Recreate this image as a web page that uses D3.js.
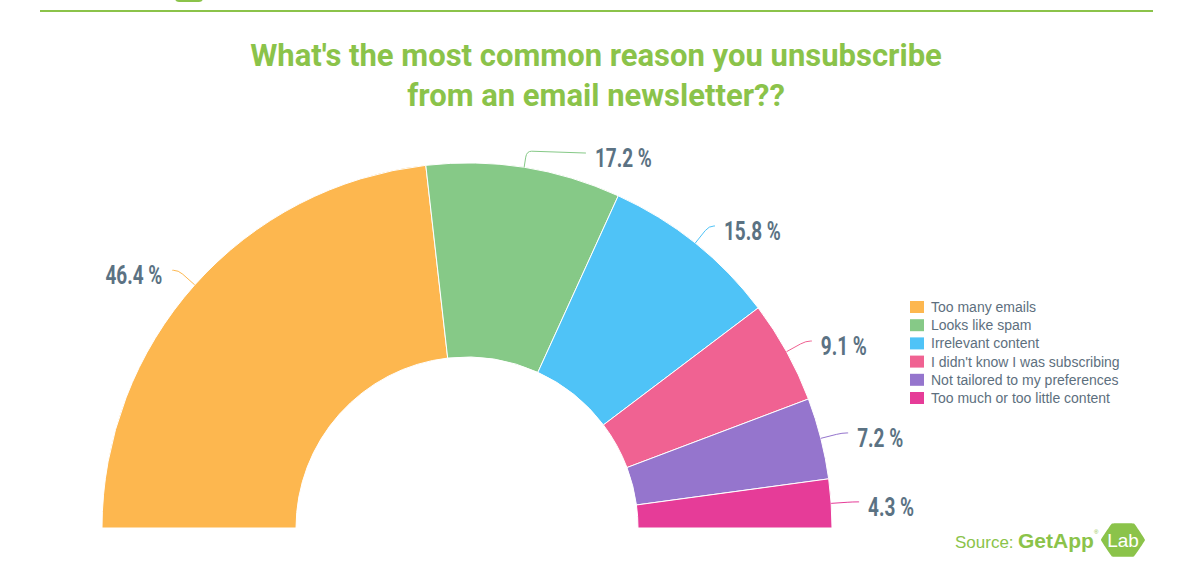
<!DOCTYPE html>
<html>
<head>
<meta charset="utf-8">
<script src="https://cdn.jsdelivr.net/npm/d3@7"></script>
<style>
  html, body { margin: 0; padding: 0; background: #ffffff; }
  svg { display: block; }
</style>
</head>
<body>
<svg id="chart" width="1186" height="576"></svg>
<script>
// ---- data ----
const categories = [
  "Too many emails",
  "Looks like spam",
  "Irrelevant content",
  "I didn't know I was subscribing",
  "Not tailored to my preferences",
  "Too much or too little content"
];
const values = [46.4, 17.2, 15.8, 9.1, 7.2, 4.3];
const colors = ["#FDB74F", "#86C987", "#4FC3F7", "#F06292", "#9575CD", "#E63C98"];
const titleLines = ["What's the most common reason you unsubscribe", "from an email newsletter??"];

// ---- layout ----
const svg = d3.select("#chart");
const cx = 467, cy = 528, outerR = 365, innerR = 171;
const green = "#8BC34A";
const labelColor = "#5B7283";

// top rule + cut-off logo
svg.append("rect").attr("x", 175).attr("y", -8).attr("width", 28).attr("height", 10).attr("rx", 4).attr("fill", green);
svg.append("line").attr("x1", 40).attr("x2", 1153).attr("y1", 11).attr("y2", 11)
  .attr("stroke", green).attr("stroke-width", 2);

// title
const title = svg.append("text").attr("x", 596).attr("text-anchor", "middle")
  .attr("font-family", "Roboto, 'Liberation Sans', sans-serif").attr("font-weight", 700)
  .attr("font-size", 31).attr("fill", green);
titleLines.forEach((t, i) => title.append("tspan").attr("x", 596).attr("y", 66 + i * 40).text(t));

// pie
const pie = d3.pie().sort(null).value(d => d).startAngle(-Math.PI / 2).endAngle(Math.PI / 2);
const arcs = pie(values);
const arc = d3.arc().innerRadius(innerR).outerRadius(outerR);
const g = svg.append("g").attr("transform", `translate(${cx},${cy})`);
g.selectAll("path.slice").data(arcs).join("path")
  .attr("class", "slice")
  .attr("d", arc)
  .attr("fill", (d, i) => colors[i])
  .attr("stroke", "#ffffff").attr("stroke-width", 1);

// labels with connectors
const fmt = v => v.toFixed(1) + " %";
arcs.forEach((d, i) => {
  const a = (d.startAngle + d.endAngle) / 2;
  const sx = Math.sin(a), sy = -Math.cos(a);
  const right = sx >= 0;
  const dir = right ? 1 : -1;
  const near = Math.max(0, (Math.cos(a) - 0.85) / 0.15);
  const radial = 22 - 6 * near;
  const A = [outerR * sx, outerR * sy];
  const B = [(outerR + radial) * sx, (outerR + radial) * sy];
  const h = 6 + 58 * near;
  const C = [B[0] + dir * h, B[1] + 2 * near];
  const Bp = [(outerR + radial - 6) * sx, (outerR + radial - 6) * sy];
  const path = d3.path();
  path.moveTo(A[0], A[1]);
  path.lineTo(Bp[0], Bp[1]);
  path.quadraticCurveTo(B[0], B[1], B[0] + dir * Math.min(5, h), B[1]);
  path.lineTo(C[0], C[1]);
  g.append("path").attr("d", path.toString()).attr("fill", "none")
    .attr("stroke", colors[i]).attr("stroke-width", 1);
  const tx = C[0] + dir * (right ? 9 : 10);
  const ty = C[1] + 5;
  g.append("text")
    .attr("transform", `translate(${tx},${ty}) scale(0.73,1)`)
    .attr("dy", "0.35em")
    .attr("text-anchor", right ? "start" : "end")
    .attr("font-family", "Roboto, 'Liberation Sans', sans-serif")
    .attr("font-weight", 700).attr("font-size", 26)
    .attr("fill", labelColor)
    .text(fmt(values[i]));
});

// legend
const legend = svg.append("g").attr("transform", "translate(910,307)");
categories.forEach((c, i) => {
  const row = legend.append("g").attr("transform", `translate(0,${i * 18.2})`);
  row.append("rect").attr("x", 0).attr("y", -6).attr("width", 14).attr("height", 12).attr("fill", colors[i]);
  row.append("text").attr("x", 21).attr("y", 0).attr("dy", "0.35em")
    .attr("font-family", "'Liberation Sans', Arial, sans-serif").attr("font-size", 14)
    .attr("fill", "#5D6F7E").text(c);
});

// source
const src = svg.append("g");
src.append("text").attr("x", 955).attr("y", 548)
  .attr("font-family", "'Liberation Sans', Arial, sans-serif").attr("font-size", 17)
  .attr("fill", green).text("Source:");
src.append("text").attr("x", 1018).attr("y", 548)
  .attr("font-family", "'Liberation Sans', Arial, sans-serif").attr("font-weight", 700).attr("font-size", 21)
  .attr("fill", green).text("GetApp");
src.append("text").attr("x", 1094).attr("y", 534)
  .attr("font-family", "'Liberation Sans', Arial, sans-serif").attr("font-size", 6)
  .attr("fill", green).text("®");
const hx = 1123, hy = 540, hr = 22;
const hex = d3.range(6).map(k => [hx + hr * Math.cos(k * Math.PI / 3), hy + hr * 0.86 * Math.sin(k * Math.PI / 3)]);
src.append("path").attr("d", d3.line().curve(d3.curveCardinalClosed.tension(0.85))(hex)).attr("fill", green);
src.append("text").attr("x", hx).attr("y", hy).attr("dy", "0.35em").attr("text-anchor", "middle")
  .attr("font-family", "'Liberation Sans', Arial, sans-serif").attr("font-size", 19)
  .attr("fill", "#ffffff").text("Lab");
</script>
</body>
</html>
